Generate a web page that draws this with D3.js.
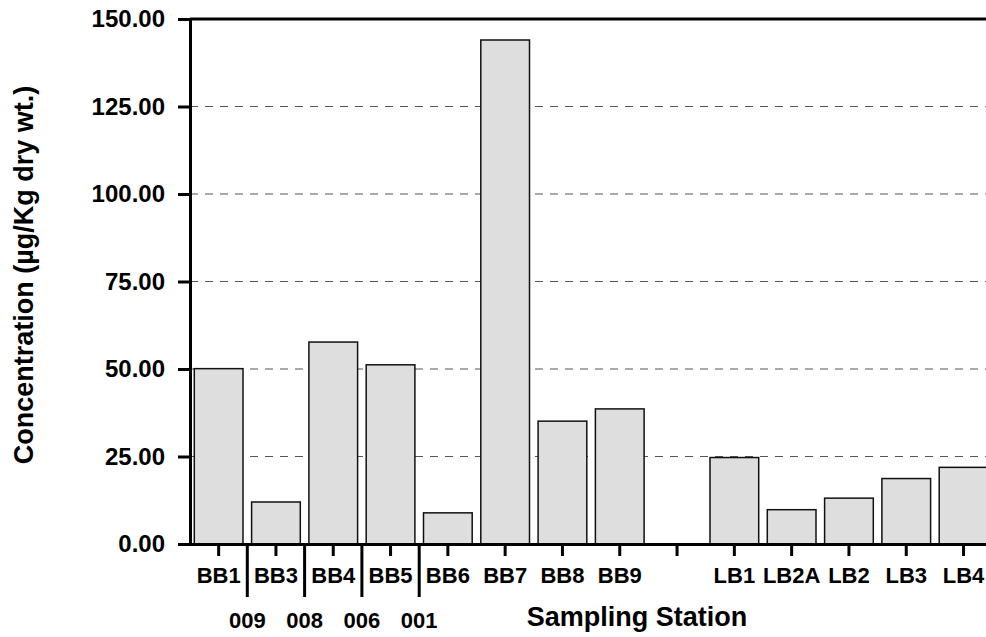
<!DOCTYPE html>
<meta charset="utf-8">
<html>
<head>
  <script src="https://d3js.org/d3.v7.min.js"></script>
  <style>
    body { margin: 0; background: #fff; font-family: Arial, "Liberation Sans", sans-serif; }
    text { font-weight: bold; fill: #000; font-family: Arial, "Liberation Sans", sans-serif; }
  </style>
</head>
<body>
  <svg width="986" height="637"></svg>
  <script>
    // stations in drawing order ("" is the empty slot between the BB and LB groups)
    const stations = ["BB1", "BB3", "BB4", "BB5", "BB6", "BB7", "BB8", "BB9", "", "LB1", "LB2A", "LB2", "LB3", "LB4"];
    const values   = [50.1, 12.0, 57.7, 51.2, 8.9, 144.0, 35.1, 38.6, null, 24.7, 9.8, 13.1, 18.7, 21.9];
    // outfall labels placed between neighbouring stations
    const outfalls = [{after: "BB1", label: "009"}, {after: "BB3", label: "008"},
                      {after: "BB4", label: "006"}, {after: "BB5", label: "001"}];
    const yTicks = [0, 25, 50, 75, 100, 125, 150];

    const plotLeft = 190, plotTop = 19, plotBottom = 544;
    const step = 57.3;
    const plotRight = plotLeft + step * stations.length;

    const svg = d3.select("svg");

    const x = d3.scaleBand()
        .domain(stations.map((d, i) => i))
        .range([plotLeft, plotRight])
        .paddingInner(0.15)
        .paddingOuter(0.075);

    const y = d3.scaleLinear()
        .domain([0, 150])
        .range([plotBottom, plotTop]);

    // dashed gridlines
    svg.append("g")
      .selectAll("line")
      .data(yTicks.filter(t => t > 0 && t < 150))
      .enter().append("line")
        .attr("x1", plotLeft).attr("x2", 986)
        .attr("y1", d => y(d)).attr("y2", d => y(d))
        .attr("stroke", "#555")
        .attr("stroke-width", 1)
        .attr("stroke-dasharray", "8,7");

    // bars
    svg.append("g")
      .selectAll("rect")
      .data(values.map((v, i) => ({v, i})).filter(d => d.v != null))
      .enter().append("rect")
        .attr("x", d => x(d.i))
        .attr("width", x.bandwidth())
        .attr("y", d => y(d.v))
        .attr("height", d => plotBottom - y(d.v))
        .attr("fill", "#dedede")
        .attr("stroke", "#111")
        .attr("stroke-width", 1.5);

    // top frame line
    svg.append("line")
        .attr("x1", plotLeft).attr("x2", 986)
        .attr("y1", plotTop).attr("y2", plotTop)
        .attr("stroke", "#000").attr("stroke-width", 3);

    // y axis
    const yAxis = svg.append("g")
        .attr("transform", `translate(${plotLeft},0)`)
        .call(d3.axisLeft(y).tickValues(yTicks).tickFormat(d3.format(".2f")).tickSize(12).tickPadding(13));
    yAxis.select(".domain").attr("stroke-width", 3);
    yAxis.selectAll(".tick line").attr("stroke-width", 3);
    yAxis.selectAll(".tick text").style("font-size", "24px");

    // x axis
    const xAxis = svg.append("g")
        .attr("transform", `translate(0,${plotBottom})`)
        .call(d3.axisBottom(x).tickFormat(i => stations[i]).tickSize(12).tickPadding(11).tickSizeOuter(0));
    xAxis.select(".domain").attr("stroke-width", 3).attr("d", `M${plotLeft - 12},0.5H986`);
    xAxis.selectAll(".tick line").attr("stroke-width", 3);
    xAxis.selectAll(".tick text").style("font-size", "22px");

    // separators and outfall labels
    const sep = svg.append("g");
    outfalls.forEach(o => {
      const i = stations.indexOf(o.after);
      const sx = x(i) + x.bandwidth() + x.step() * x.paddingInner() / 2;
      sep.append("line")
          .attr("x1", sx).attr("x2", sx)
          .attr("y1", plotBottom).attr("y2", 597)
          .attr("stroke", "#000").attr("stroke-width", 3);
      sep.append("text")
          .attr("x", sx).attr("y", 628)
          .attr("text-anchor", "middle")
          .style("font-size", "22px")
          .text(o.label);
    });

    // axis titles
    svg.append("text")
        .attr("x", 637).attr("y", 626)
        .attr("text-anchor", "middle")
        .style("font-size", "27px")
        .text("Sampling Station");

    svg.append("text")
        .attr("transform", `translate(33,275) rotate(-90)`)
        .attr("text-anchor", "middle")
        .style("font-size", "27px")
        .text("Concentration (µg/Kg dry wt.)");
  </script>
</body>
</html>
